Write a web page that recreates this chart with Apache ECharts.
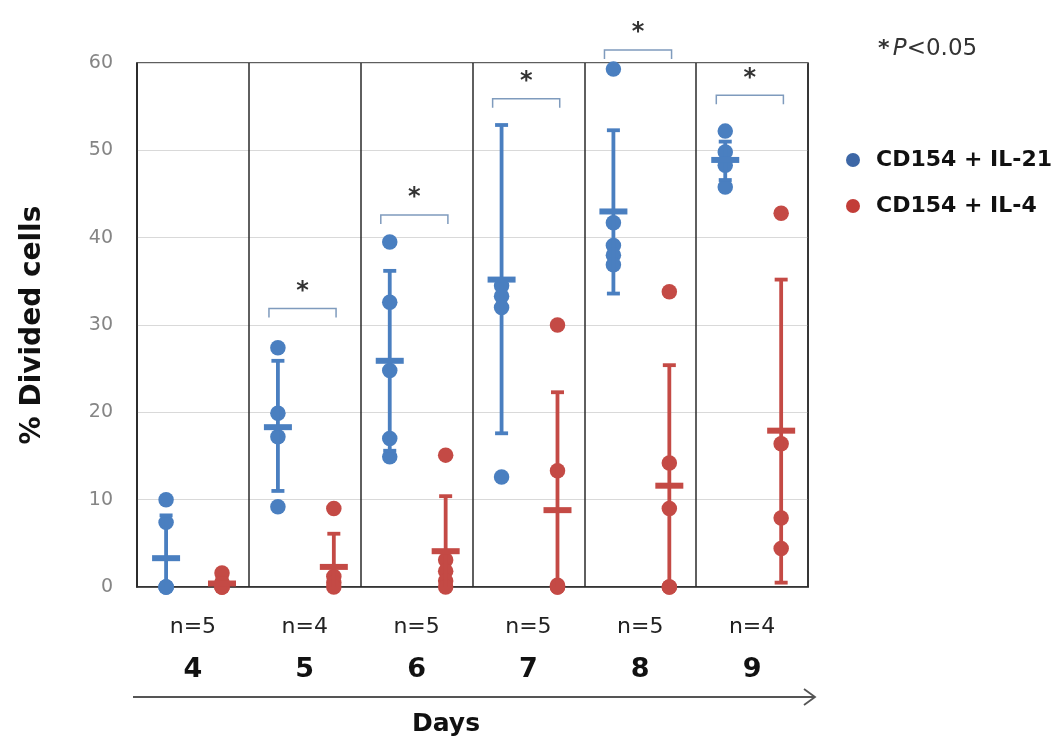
<!DOCTYPE html>
<html><head><meta charset="utf-8">
<script src="https://cdn.jsdelivr.net/npm/echarts/dist/echarts.min.js"></script>
<style>html,body{margin:0;padding:0;background:#fff}#c{width:1062px;height:746px}</style>
</head><body><div id="c"></div>
<script>
// ---------- data ----------
const days = ['4', '5', '6', '7', '8', '9'];
const nLabels = ['n=5', 'n=4', 'n=5', 'n=5', 'n=5', 'n=4'];
const seriesNames = ['CD154 + IL-21', 'CD154 + IL-4'];

const il21Points = [
  [10.0, 7.4, 0, 0, 0],
  [27.4, 19.9, 17.2, 9.2],
  [39.5, 32.6, 24.8, 17.0, 14.9],
  [34.5, 33.3, 32.0, 12.6],
  [59.3, 41.7, 39.1, 38.0, 36.9],
  [52.2, 49.8, 48.3, 45.8]
];
const il21Mean  = [3.3, 18.3, 25.9, 35.2, 43.0, 48.9];
const il21Upper = [8.2, 25.9, 36.2, 52.9, 52.3, 51.0];
const il21Lower = [-1.5, 11.0, 15.6, 17.6, 33.6, 46.6];

const il4Points = [
  [1.6, 0.5, 0, 0, 0],
  [9.0, 1.2, 0.5, 0],
  [15.1, 3.1, 1.8, 0.7, 0],
  [30.0, 13.3, 0.2, 0, 0],
  [33.8, 14.2, 9.0, 0, 0],
  [42.8, 16.4, 7.9, 4.4]
];
const il4Mean  = [0.4, 2.3, 4.1, 8.8, 11.6, 17.9];
const il4Upper = [1.0, 6.1, 10.4, 22.3, 25.4, 35.2];
const il4Lower = [-0.2, -1.5, -2.2, -4.7, -2.2, 0.5];

// significance brackets (y level, null = none)
const sigBracketY = [null, 31.9, 42.6, 55.9, 61.5, 56.3];

// ---------- styling / layout ----------
const FONT = 'DejaVu Sans';
const BLUE = '#4a7fc0', RED = '#c44a45';
const BLUE_OFF = 0.26, RED_OFF = 0.76;

function pointData(points, off) {
  const out = [];
  points.forEach((arr, i) => arr.forEach(v => out.push([i + off, v])));
  return out;
}
function errData(mean, lo, hi, off) {
  return mean.map((m, i) => [i + off, m, lo[i], hi[i]]);
}
function errRender(color) {
  return function (params, api) {
    const x = api.value(0), m = api.value(1), lo = api.value(2), hi = api.value(3);
    const pm = api.coord([x, m]);
    const plo = api.coord([x, Math.max(lo, 0)]);
    const phi = api.coord([x, hi]);
    const st = { stroke: color, lineWidth: 3.8 };
    const ch = [
      { type: 'line', shape: { x1: pm[0], y1: plo[1], x2: pm[0], y2: phi[1] }, style: st },
      { type: 'line', shape: { x1: pm[0] - 6.5, y1: phi[1], x2: pm[0] + 6.5, y2: phi[1] }, style: st }
    ];
    if (lo >= 0) ch.push({ type: 'line', shape: { x1: pm[0] - 6.5, y1: plo[1], x2: pm[0] + 6.5, y2: plo[1] }, style: st });
    ch.push({ type: 'line', shape: { x1: pm[0] - 14, y1: pm[1], x2: pm[0] + 14, y2: pm[1] }, style: { stroke: color, lineWidth: 6 } });
    return { type: 'group', children: ch };
  };
}
const bracketData = sigBracketY.map((y, i) => [i, y]).filter(d => d[1] !== null);

const chart = echarts.init(document.getElementById('c'), null, { renderer: 'canvas' });
chart.setOption({
  animation: false,
  textStyle: { fontFamily: FONT },
  grid: { left: 137, right: 254, top: 63, bottom: 159, show: true, borderColor: '#2a2a2a', borderWidth: 1.5, backgroundColor: 'transparent' },
  legend: {
    orient: 'vertical', left: 841, top: 142, itemWidth: 14, itemHeight: 14, itemGap: 20, icon: 'circle',
    textStyle: { fontFamily: FONT, fontSize: 22, fontWeight: 'bold', color: '#111', lineHeight: 26, padding: [0, 0, 0, 11] },
    data: [
      { name: seriesNames[0], itemStyle: { color: '#3d67a6' } },
      { name: seriesNames[1], itemStyle: { color: '#c23d38' } }
    ]
  },
  xAxis: [
    {
      type: 'value', min: 0, max: 6, interval: 1,
      axisLine: { show: true, lineStyle: { color: '#2a2a2a', width: 1.5 } },
      axisTick: { show: false }, axisLabel: { show: false },
      splitLine: { show: true, lineStyle: { color: '#2a2a2a', width: 1.5 } }
    },
    {
      type: 'category', data: days, position: 'bottom', boundaryGap: true,
      axisLine: { show: false }, axisTick: { show: false }, splitLine: { show: false },
      axisLabel: {
        margin: 23, interval: 0,
        formatter: (v, i) => '{n|' + nLabels[i] + '}\n{d|' + v + '}',
        rich: {
          n: { fontFamily: FONT, fontSize: 22, color: '#222', lineHeight: 34 },
          d: { fontFamily: FONT, fontSize: 27, fontWeight: 'bold', color: '#111', lineHeight: 52 }
        }
      }
    }
  ],
  yAxis: {
    type: 'value', min: 0, max: 60, interval: 10,
    name: '% Divided cells', nameLocation: 'middle', nameGap: 90,
    nameTextStyle: { fontFamily: FONT, fontSize: 28, fontWeight: 'bold', color: '#111' },
    axisLine: { show: true, lineStyle: { color: '#2a2a2a', width: 1.5 } },
    axisTick: { show: false },
    axisLabel: { color: '#858585', fontSize: 19, margin: 24, fontFamily: FONT },
    splitLine: { lineStyle: { color: '#d9d9d9', width: 1 } }
  },
  series: [
    { name: seriesNames[0], type: 'scatter', xAxisIndex: 0, symbolSize: 15.5, itemStyle: { color: BLUE, opacity: 1 }, data: pointData(il21Points, BLUE_OFF), z: 3 },
    { name: seriesNames[1], type: 'scatter', xAxisIndex: 0, symbolSize: 15.5, itemStyle: { color: RED, opacity: 1 }, data: pointData(il4Points, RED_OFF), z: 3 },
    { name: 'err21', type: 'custom', xAxisIndex: 0, renderItem: errRender(BLUE), data: errData(il21Mean, il21Lower, il21Upper, BLUE_OFF), z: 4 },
    { name: 'err4', type: 'custom', xAxisIndex: 0, renderItem: errRender(RED), data: errData(il4Mean, il4Lower, il4Upper, RED_OFF), z: 4 },
    {
      name: 'sig', type: 'custom', xAxisIndex: 0, clip: false, z: 5,
      data: bracketData,
      renderItem: function (params, api) {
        const i = api.value(0), y = api.value(1);
        const a = api.coord([i + 0.18, y]), b = api.coord([i + 0.78, y]);
        return {
          type: 'group', children: [
            { type: 'polyline', shape: { points: [[a[0], a[1] + 9], [a[0], a[1]], [b[0], b[1]], [b[0], b[1] + 9]] }, style: { stroke: '#7f9bbd', lineWidth: 1.5, fill: null } },
            { type: 'text', style: { text: '*', x: (a[0] + b[0]) / 2, y: a[1] - 17, align: 'center', verticalAlign: 'middle', fontFamily: FONT, fontSize: 24, fontWeight: 'bold', fill: '#333' } }
          ]
        };
      }
    }
  ],
  graphic: [
    { type: 'line', shape: { x1: 133, y1: 697, x2: 815, y2: 697 }, style: { stroke: '#555', lineWidth: 2 } },
    { type: 'polyline', shape: { points: [[804, 689], [815, 697], [804, 705]] }, style: { stroke: '#555', lineWidth: 1.8, fill: null } },
    { type: 'text', style: { text: 'Days', x: 446, y: 724, align: 'center', verticalAlign: 'middle', fontFamily: FONT, fontSize: 25, fontWeight: 'bold', fill: '#111' } },
    {
      type: 'text', style: {
        text: '{s|*} {p|P}{t|<0.05}', x: 878, y: 49, verticalAlign: 'middle',
        rich: {
          s: { fontFamily: FONT, fontSize: 22, fontWeight: 'bold', fill: '#333' },
          p: { fontFamily: FONT, fontSize: 23, fontStyle: 'italic', fill: '#333' },
          t: { fontFamily: FONT, fontSize: 23, fill: '#333' }
        }
      }
    }
  ]
});
</script>
</body></html>
